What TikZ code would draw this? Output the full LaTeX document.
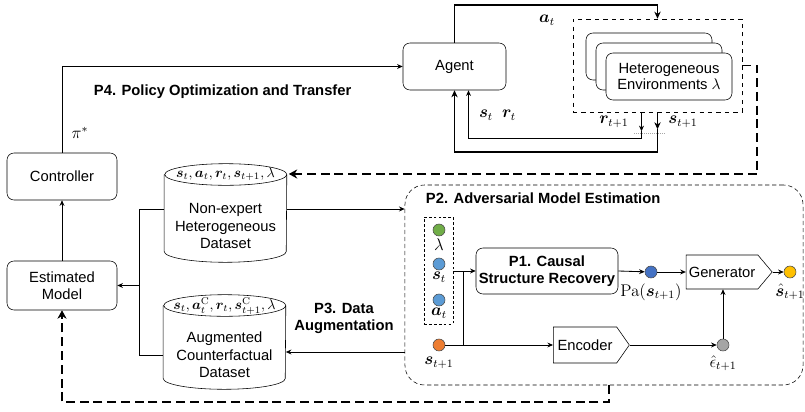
\documentclass[tikz,border=0pt]{standalone}
\usepackage{amsmath,bm}
\usepackage[no-math]{fontspec}
\setmainfont{Liberation Sans}
\usetikzlibrary{positioning,arrows.meta,calc,shapes.symbols}
\definecolor{cgreen}{RGB}{112,173,71}
\definecolor{cblue}{RGB}{91,155,213}
\definecolor{cdblue}{RGB}{68,114,196}
\definecolor{corange}{RGB}{237,125,49}
\definecolor{cyellow}{RGB}{255,192,0}
\definecolor{cgray}{RGB}{165,165,165}

\begin{document}
\begin{tikzpicture}[x=0.025cm,y=-0.025cm,
 b/.style={draw,rounded corners=5pt,align=center,font=\fontsize{10.5}{12}\selectfont,fill=white,inner sep=2pt},
 cyl/.style={minimum width=3.05cm,minimum height=2.45cm,inner sep=0pt},
 sig/.style={draw,signal,signal to=east,font=\fontsize{10.5}{12}\selectfont,inner sep=0pt},
 dot/.style={circle,draw=black!70,minimum size=0.3cm,inner sep=0pt},
 a/.style={-{Stealth[length=4pt,width=3.5pt]},line width=0.6pt},
 ta/.style={-{Stealth[length=5pt,width=4.5pt]},line width=1.2pt},
 da/.style={-{Stealth[length=6pt,width=6.5pt]},line width=1.4pt,dash pattern=on 6.4pt off 3.4pt},
 t/.style={font=\fontsize{10.5}{12}\selectfont\bfseries,align=center},
 m/.style={font=\fontsize{10.5}{12.4}\selectfont,inner sep=1pt,align=center},
 ml/.style={font=\fontsize{11.5}{12}\selectfont,inner sep=1pt},
 ct/.style={font=\fontsize{10}{12}\selectfont,inner sep=0.5pt}]
\useasboundingbox (0,0) rectangle (805,412);
% environment and agent
\node[draw,dashed,minimum width=4.225cm,minimum height=2.325cm] (envbox) at (657.5,65.5) {};
\node[b,minimum width=3.15cm,minimum height=1.175cm] (env3) at (649,56.5) {};
\node[b,minimum width=3.15cm,minimum height=1.175cm] (env2) at (659,66.5) {};
\node[b,minimum width=3.15cm,minimum height=1.175cm] (env1) at (669,76.5) {Heterogeneous\\Environments $\lambda$};
\node[b,minimum width=2.575cm,minimum height=1.175cm] (agent) at (454.5,66.5) {Agent};
\draw[ta] (agent.north) -- ++(0,-38) -| (envbox.north);
\node[ml] (la) at (547,20) {$\bm{a}_t$};
\draw[ta] (envbox.south) -- ++(0,17) coordinate (sA);
\draw[ta] (sA) -- ++(0,23) -| (agent.south);
\draw[a] ([xshift=-0.4cm]envbox.south) -- ++(0,19) coordinate (rA);
\draw[a] (rA) -- ++(0,7) -| ([xshift=0.35cm]agent.south);
\draw[gray!70,densely dotted,line width=0.4pt] ([xshift=-0.575cm,yshift=-0.525cm]envbox.south) -- ++(31,0);
\node[ml] (lr1) at (614,122) {$\bm{r}_{t+1}$};
\node[ml] (ls1) at (683,122) {$\bm{s}_{t+1}$};
\node[ml] (ls) at (486,115) {$\bm{s}_t$};
\node[ml] (lr) at (509,115) {$\bm{r}_t$};
% controller and model
\node[b,minimum width=2.75cm,minimum height=1.175cm] (ctrl) at (62,176.5) {Controller};
\node[b,minimum width=2.75cm,minimum height=1.225cm] (est) at (62,285.5) {Estimated\\Model};
\draw[a] (ctrl.north) |- (agent.west);
\node[ml] (lpi) at (80,133) {$\pi^*$};
\node[t,anchor=west] (p4) at (89,92) {P4. Policy Optimization and Transfer};
\draw[a] (est.north) -- (ctrl.south);
% P2 region
\node[draw,rounded corners=14pt,minimum width=9.95cm,minimum height=5cm,dash pattern=on 3pt off 2pt] (region) at (604,285) {};
\node[t,anchor=west] (p2) at (421,198) {P2. Adversarial Model Estimation};
% datasets
\node[cyl] (d1) at (225.5,213) {};
\draw ([yshift=-0.27cm]d1.north west) -- ([yshift=0.27cm]d1.south west) arc[start angle=180,end angle=360,x radius=1.525cm,y radius=0.27cm]
 -- ([yshift=-0.27cm]d1.north east) arc[start angle=0,end angle=360,x radius=1.525cm,y radius=0.27cm];
\node[ct] (d1top) at (225.5,174) {$\bm{s}_t,\bm{a}_t,\bm{r}_t,\bm{s}_{t+1},\lambda$};
\node[m] (d1txt) at (225.5,226) {Non-expert\\Heterogeneous\\Dataset};
\node[cyl,minimum height=2.35cm] (d2) at (224.5,342) {};
\draw ([yshift=-0.27cm]d2.north west) -- ([yshift=0.27cm]d2.south west) arc[start angle=180,end angle=360,x radius=1.525cm,y radius=0.27cm]
 -- ([yshift=-0.27cm]d2.north east) arc[start angle=0,end angle=360,x radius=1.525cm,y radius=0.27cm];
\node[ct] (d2top) at (224.5,306) {$\bm{s}_t,\bm{a}_t^{\mathrm{C}},\bm{r}_t,\bm{s}_{t+1}^{\mathrm{C}},\lambda$};
\node[m] (d2txt) at (224.5,355) {Augmented\\Counterfactual\\Dataset};
\node[t] (p3) at (344,318) {P3. Data\\Augmentation};
\coordinate (d1l) at ([yshift=0.1cm]d1.west);
\coordinate (d1r) at ([yshift=0.1cm]d1.east);
\coordinate (d2r) at ([yshift=-0.25cm]d2.east);
\draw (d1l) -- ++(-25,0) coordinate (jl) |- ([yshift=-0.325cm]d2.west);
\draw[a] (jl |- est.east) -- (est.east);
\draw[a] (d1r) -- (d1r -| region.west);
\draw[a] (region.west |- d2r) -- (d2r);
\draw[da] (envbox.east) -- ++(15,0) |- ([shift={(0.05cm,0.975cm)}]d1.east);
\draw[da] ([xshift=0.125cm]region.south) -- ++(0,17) -| (est.south);
% inside P2
\node[draw,dash pattern=on 2pt off 1.5pt,minimum width=0.725cm,minimum height=2.675cm] (inbox) at (438.5,270.5) {};
\node[dot,fill=cgreen] (lam) at (439,230) {};
\node[dot,fill=cblue] (st) at (439,264) {};
\node[dot,fill=cblue] (at) at (439,300) {};
\node[dot,fill=corange] (st1) at (439,345) {};
\node[ml] (llam) at (439,245) {$\lambda$};
\node[ml] (lst) at (439,277) {$\bm{s}_t$};
\node[ml] (lat) at (439,313) {$\bm{a}_t$};
\node[ml] (lst1) at (439,363) {$\bm{s}_{t+1}$};
\node[b,font=\fontsize{10.5}{12}\selectfont\bfseries,minimum width=3.55cm,minimum height=1.15cm] (p1) at (547,271) {P1. Causal\\Structure Recovery};
\node[sig,signal pointer angle=100,minimum width=2.15cm,minimum height=0.85cm] (gen) at (722,272) {Generator};
\node[sig,signal pointer angle=110,minimum width=1.9cm,minimum height=0.9cm] (enc) at (585,345) {Encoder};
\node[dot,fill=cdblue] (pa) at (651,272) {};
\node[dot,fill=cyellow] (shat) at (790,272) {};
\node[dot,fill=cgray] (eps) at (723,345) {};
\node[ml] (lpa) at (651,292) {$\mathrm{Pa}(\bm{s}_{t+1})$};
\node[ml] (lshat) at (790,292) {$\hat{\bm{s}}_{t+1}$};
\node[ml] (leps) at (723,363) {$\hat{\epsilon}_{t+1}$};
\coordinate (jb) at (463,345);
\draw[a] (st1) -- (enc.west);
\draw[a] (jb) |- (p1.west);
\draw (inbox.east |- p1.west) -- (jb |- p1.west);
\draw[a] (p1.east) -- (pa);
\draw[a] (pa) -- (gen.west);
\draw[a] (gen.east) -- (shat);
\draw[a] (enc.east) -- (eps);
\draw[a] (eps) -- (eps |- gen.south);
\end{tikzpicture}
\end{document}
